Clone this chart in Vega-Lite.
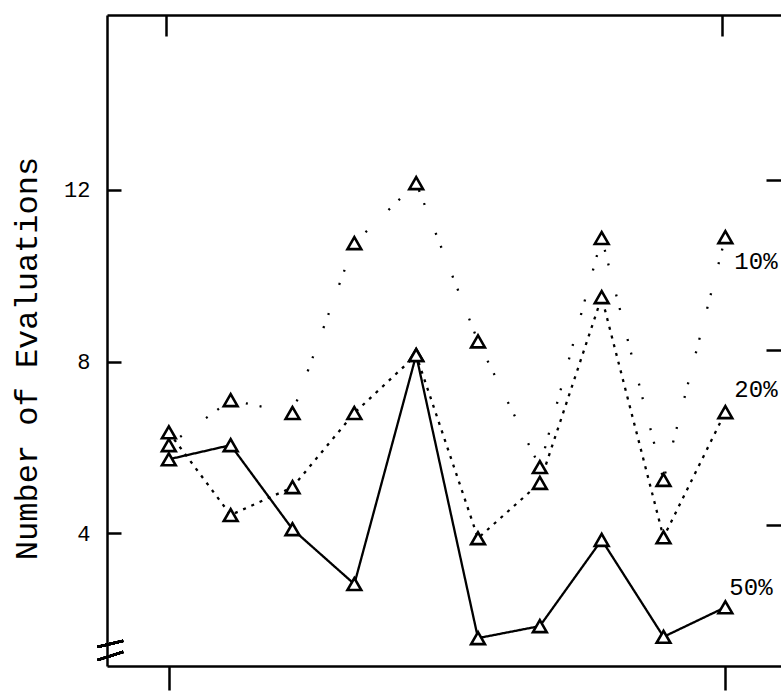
{
  "$schema": "https://vega.github.io/schema/vega-lite/v6.json",
  "autosize": {"type": "none"},
  "padding": {"left": 107, "top": 15, "right": 0, "bottom": 28},
  "width": 674,
  "height": 651,
  "background": "white",
  "config": {
    "view": {"stroke": null},
    "axis": {"grid": false, "domainColor": "black", "tickColor": "black", "labelColor": "black", "titleColor": "black", "labelFont": "Liberation Mono", "titleFont": "Liberation Mono", "titleFontWeight": "normal"}
  },
  "data": {
    "values": [
      {"x": 1, "v": 6.05, "s": "10%"}, {"x": 2, "v": 7.1, "s": "10%"}, {"x": 3, "v": 6.8, "s": "10%"}, {"x": 4, "v": 10.76, "s": "10%"}, {"x": 5, "v": 12.16, "s": "10%"},
      {"x": 6, "v": 8.47, "s": "10%"}, {"x": 7, "v": 5.54, "s": "10%"}, {"x": 8, "v": 10.88, "s": "10%"}, {"x": 9, "v": 5.24, "s": "10%"}, {"x": 10, "v": 10.9, "s": "10%"},
      {"x": 1, "v": 6.35, "s": "20%"}, {"x": 2, "v": 4.42, "s": "20%"}, {"x": 3, "v": 5.07, "s": "20%"}, {"x": 4, "v": 6.8, "s": "20%"}, {"x": 5, "v": 8.15, "s": "20%"},
      {"x": 6, "v": 3.88, "s": "20%"}, {"x": 7, "v": 5.17, "s": "20%"}, {"x": 8, "v": 9.5, "s": "20%"}, {"x": 9, "v": 3.9, "s": "20%"}, {"x": 10, "v": 6.82, "s": "20%"},
      {"x": 1, "v": 5.72, "s": "50%"}, {"x": 2, "v": 6.05, "s": "50%"}, {"x": 3, "v": 4.09, "s": "50%"}, {"x": 4, "v": 2.81, "s": "50%"}, {"x": 5, "v": 8.15, "s": "50%"},
      {"x": 6, "v": 1.55, "s": "50%"}, {"x": 7, "v": 1.83, "s": "50%"}, {"x": 8, "v": 3.84, "s": "50%"}, {"x": 9, "v": 1.58, "s": "50%"}, {"x": 10, "v": 2.27, "s": "50%"}
    ]
  },
  "layer": [
    {
      "mark": {"type": "line", "color": "black", "strokeWidth": 2.3},
      "encoding": {
        "x": {"field": "x", "type": "quantitative", "scale": {"domain": [0, 10.9], "nice": false, "zero": false},
              "axis": {"orient": "bottom", "values": [1, 10], "labels": false, "title": null, "domainWidth": 2.5, "tickWidth": 2.5, "tickSize": 24}},
        "y": {"field": "v", "type": "quantitative", "scale": {"domain": [0.9, 16.08], "nice": false, "zero": false},
              "axis": {"orient": "left", "values": [4, 8, 12], "domainWidth": 2.5, "tickWidth": 2.5, "tickSize": -14, "labelPadding": 31, "labelFontSize": 22,
                       "title": "Number of Evaluations", "titleFontSize": 32, "titleAngle": -90, "titleAlign": "center", "titleBaseline": "middle", "titleX": -81, "titleY": 343}},
        "detail": {"field": "s"},
        "strokeDash": {"field": "s", "type": "nominal", "legend": null,
                       "scale": {"domain": ["10%", "20%", "50%"], "range": [[2, 12, 2, 30], [3, 6], [1, 0]]}}
      }
    },
    {
      "mark": {"type": "point", "shape": "triangle-up", "size": 190, "filled": true, "fill": "white", "stroke": "black", "strokeWidth": 2.6, "opacity": 1},
      "encoding": {
        "x": {"field": "x", "type": "quantitative", "axis": null},
        "y": {"field": "v", "type": "quantitative", "axis": null}
      }
    },
    {
      "transform": [{"filter": "datum.x == 10 && datum.s == '10%'"}],
      "mark": {"type": "text", "align": "left", "baseline": "middle", "dx": 9, "dy": 25, "font": "Liberation Mono", "fontSize": 24, "color": "black"},
      "encoding": {"x": {"field": "x", "type": "quantitative", "axis": null}, "y": {"field": "v", "type": "quantitative", "axis": null}, "text": {"field": "s"}}
    },
    {
      "transform": [{"filter": "datum.x == 10 && datum.s == '20%'"}],
      "mark": {"type": "text", "align": "left", "baseline": "middle", "dx": 9, "dy": -22, "font": "Liberation Mono", "fontSize": 24, "color": "black"},
      "encoding": {"x": {"field": "x", "type": "quantitative", "axis": null}, "y": {"field": "v", "type": "quantitative", "axis": null}, "text": {"field": "s"}}
    },
    {
      "transform": [{"filter": "datum.x == 10 && datum.s == '50%'"}],
      "mark": {"type": "text", "align": "left", "baseline": "middle", "dx": 4, "dy": -19, "font": "Liberation Mono", "fontSize": 24, "color": "black"},
      "encoding": {"x": {"field": "x", "type": "quantitative", "axis": null}, "y": {"field": "v", "type": "quantitative", "axis": null}, "text": {"field": "s"}}
    },
    {
      "mark": {"type": "rule", "color": "black", "strokeWidth": 2.2},
      "encoding": {
        "x": {"datum": -0.15, "type": "quantitative", "axis": null}, "x2": {"datum": 0.26},
        "y": {"datum": 1.345, "type": "quantitative", "axis": null}, "y2": {"datum": 1.485}
      }
    },
    {
      "mark": {"type": "rule", "color": "black", "strokeWidth": 2.2},
      "encoding": {
        "x": {"datum": -0.15, "type": "quantitative", "axis": null}, "x2": {"datum": 0.26},
        "y": {"datum": 1.04, "type": "quantitative", "axis": null}, "y2": {"datum": 1.23}
      }
    },
    {
      "mark": {"type": "point", "opacity": 0},
      "encoding": {
        "x": {"field": "x", "type": "quantitative",
              "axis": {"orient": "top", "values": [0.95, 9.95], "labels": false, "title": null, "domainWidth": 2.5, "tickWidth": 2.5, "tickSize": -21}},
        "y": {"field": "v", "type": "quantitative",
              "axis": {"orient": "right", "values": [4.19, 8.28, 12.23], "labels": false, "title": null, "domain": false, "tickWidth": 2.5, "tickSize": -15}}
      }
    }
  ],
  "resolve": {"axis": {"x": "independent", "y": "independent"}}
}
